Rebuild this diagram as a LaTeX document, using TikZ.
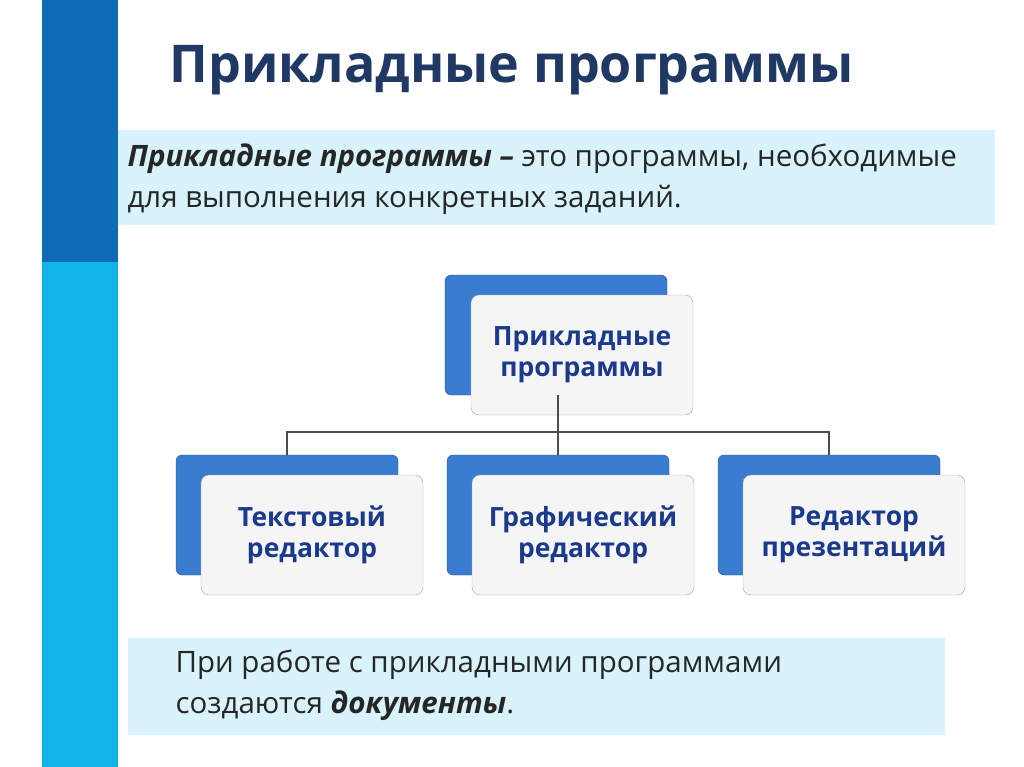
\documentclass[tikz,border=0pt]{standalone}
\usepackage{fontspec}
\setmainfont{Open Sans}
\usetikzlibrary{positioning}
\definecolor{navy}{HTML}{1F3864}
\definecolor{darkbar}{HTML}{0E6CB4}
\definecolor{cyanbar}{HTML}{12B4E8}
\definecolor{backblue}{HTML}{3A7CD0}
\definecolor{boxtext}{HTML}{1B3A8C}
\definecolor{notefill}{HTML}{D8F3FB}
\tikzset{
  backbox/.style={draw=backblue!70!black, fill=backblue, rounded corners=6pt, minimum width=222pt, minimum height=120pt},
  frontbox/.style={draw=gray!70, fill=gray!8, rounded corners=8pt, minimum width=222pt, minimum height=120pt,
    align=center, font=\bfseries\fontsize{26.5}{31}\selectfont, text=boxtext},
  notebox/.style={fill=notefill, draw=none, anchor=north west, inner sep=0pt},
  wire/.style={draw=gray!60!black, line width=1.2pt}
}
\begin{document}
\begin{tikzpicture}[x=1pt,y=-1pt]
  \useasboundingbox[fill=white] (0,0) rectangle (1024,767);
  % side bar
  \fill[darkbar] (42,0) rectangle (118,262);
  \fill[cyanbar] (42,262) rectangle (118,767);
  % title
  \node[anchor=west, text=navy, font=\bfseries\fontsize{52}{58}\selectfont] (title) at (166,70) {Прикладные программы};
  % definition
  \node[notebox, minimum width=877pt, minimum height=95pt] (defbox) at (118,130) {};
  \node[anchor=west, align=left, font=\fontsize{29.5}{41}\selectfont, text=black!85] (deftext) at (124,179)
    {\textbf{\textit{Прикладные программы –}} это программы, необходимые\\для выполнения конкретных заданий.};
  % tree
  \node[backbox] (rootback) at (556,335) {};
  \node[frontbox] (root) at (582,355) {Прикладные\\программы};
  \foreach \name/\x/\txt in {text/287/{Текстовый\\редактор}, graph/558/{Графический\\редактор}, pres/829/{Редактор\\презентаций}} {
    \node[backbox] (\name back) at (\x,515) {};
    \node[frontbox] (\name) at (\x+25,535) {\txt};
  }
  \coordinate (hub) at (558,432);
  \draw[wire] (rootback.south -| hub) -- (hub);
  \draw[wire] (textback.north) |- (hub) -| (presback.north);
  \draw[wire] (hub) -- (graphback.north);
  % note
  \node[notebox, minimum width=817pt, minimum height=97pt] (notefill) at (128,638) {};
  \node[anchor=west, align=left, font=\fontsize{29.5}{41}\selectfont, text=black!85] (notetext) at (172,685)
    {При работе с прикладными программами\\создаются \textbf{\textit{документы}}.};
\end{tikzpicture}
\end{document}
